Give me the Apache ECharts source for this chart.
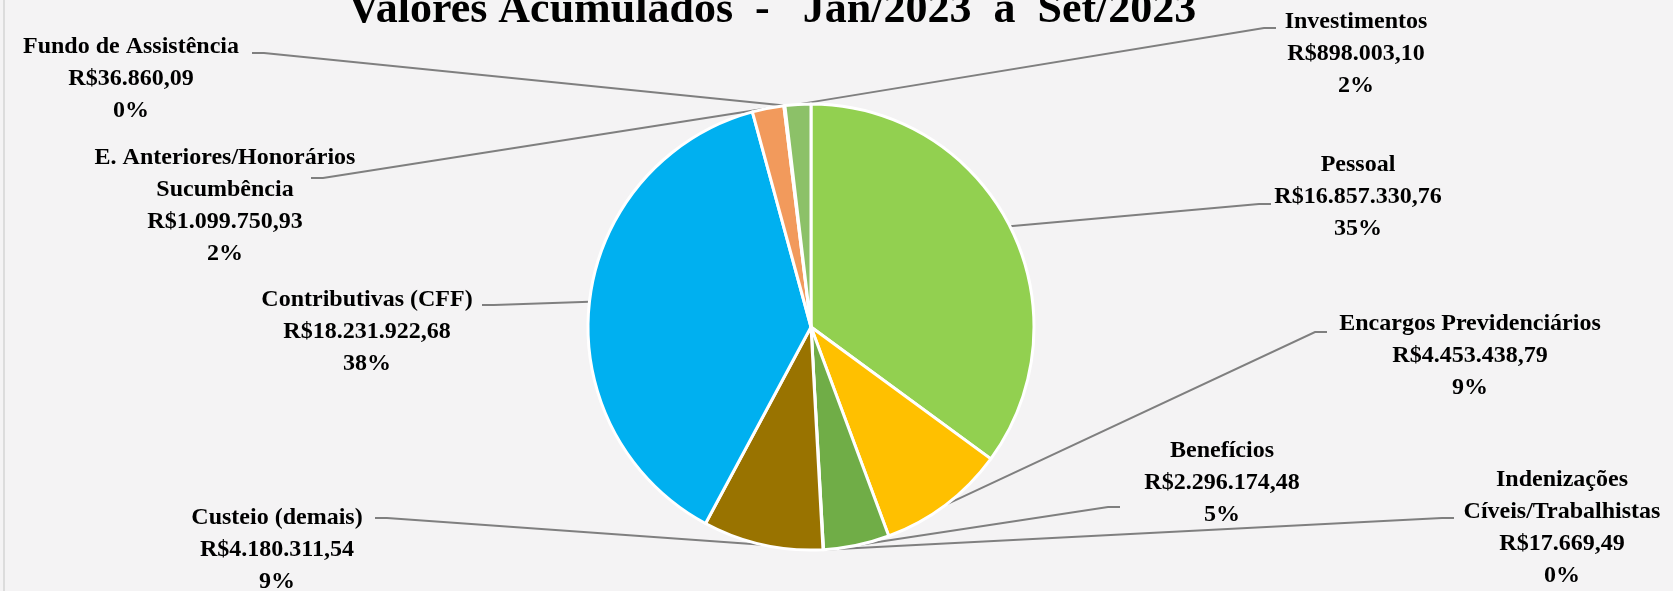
<!DOCTYPE html>
<html>
<head>
<meta charset="utf-8">
<script src="https://cdn.jsdelivr.net/npm/echarts@6/dist/echarts.min.js"></script>
<style>
  html, body { margin: 0; padding: 0; background: #f4f3f4; }
  #div-chart { width: 1673px; height: 591px; }
</style>
</head>
<body>
<div id="div-chart"></div>
<script>
var categorias = [
    'Pessoal',
    'Encargos Previdenciários',
    'Benefícios',
    'Indenizações\nCíveis/Trabalhistas',
    'Custeio (demais)',
    'Contributivas (CFF)',
    'E. Anteriores/Honorários\nSucumbência',
    'Fundo de Assistência',
    'Investimentos'
];
var valores = [16857330.76, 4453438.79, 2296174.48, 17669.49, 4180311.54, 18231922.68, 1099750.93, 36860.09, 898003.10];
var cores = ['#92d050', '#ffc000', '#70ad47', '#5b9bd5', '#997300', '#00b0f0', '#f29a5c', '#a5a5a5', '#8cc168'];

// posicao dos rotulos (centro x, topo y)
var posRotulos = [
    [1358, 149], [1470, 308], [1222, 435], [1562, 464],
    [277, 502], [367, 284], [225, 142], [131, 31], [1356, 6]
];
// ponta da linha guia junto ao rotulo (x, y, sentido do trecho horizontal)
var pontaLinha = [
    [1271, 204, -1], [1327, 332, -1], [1120, 507, -1], [1454, 518, -1],
    [375, 518, 1], [482, 305, 1], [311, 178, 1], [252, 53, 1], [1276, 28, -1]
];

function reais(v) {
    var p = v.toFixed(2).split('.');
    return 'R$' + p[0].replace(/\B(?=(\d{3})+(?!\d))/g, '.') + ',' + p[1];
}

var myChart = echarts.init(document.getElementById('div-chart'));

var dados = [];
for (var i = 0; i < categorias.length; i++) {
    dados.push({ name: categorias[i], value: valores[i], itemStyle: { color: cores[i] } });
}

option = {
    backgroundColor: '#f4f3f4',
    title: {
        text: 'Valores Acumulados  -   Jan/2023  a  Set/2023',
        left: 343,
        top: -16,
        textStyle: {
            fontFamily: 'Liberation Serif',
            fontWeight: 'bold',
            fontSize: 44,
            color: '#000'
        }
    },
    graphic: [
        { type: 'rect', shape: { x: 3, y: 0, width: 2, height: 591 }, style: { fill: '#dcdcdc' }, silent: true }
    ],
    series: [
        {
            type: 'pie',
            center: [811, 327],
            radius: 223,
            startAngle: 90,
            clockwise: true,
            avoidLabelOverlap: false,
            animation: false,
            data: dados,
            itemStyle: { borderColor: '#fff', borderWidth: 3 },
            label: {
                show: true,
                fontFamily: 'Liberation Serif',
                fontWeight: 'bold',
                fontSize: 24,
                lineHeight: 32,
                color: '#000',
                align: 'center',
                formatter: function (p) {
                    return p.name + '\n' + reais(p.value) + '\n' + Math.round(p.percent) + '%';
                }
            },
            labelLine: {
                show: true,
                length: 20,
                length2: 20,
                lineStyle: { color: '#7f7f7f', width: 2 }
            },
            emphasis: { disabled: true }
        }
    ]
};

option.series[0].labelLayout = function (params) {
    var pos = posRotulos[params.dataIndex];
    var ponta = pontaLinha[params.dataIndex];
    var res = { x: pos[0], y: pos[1], align: 'center', verticalAlign: 'top' };
    if (params.labelLinePoints) {
        var ini = params.labelLinePoints[0];
        res.labelLinePoints = [ini, [ponta[0] + ponta[2] * 12, ponta[1]], [ponta[0], ponta[1]]];
    }
    return res;
};

myChart.setOption(option);
</script>
</body>
</html>
